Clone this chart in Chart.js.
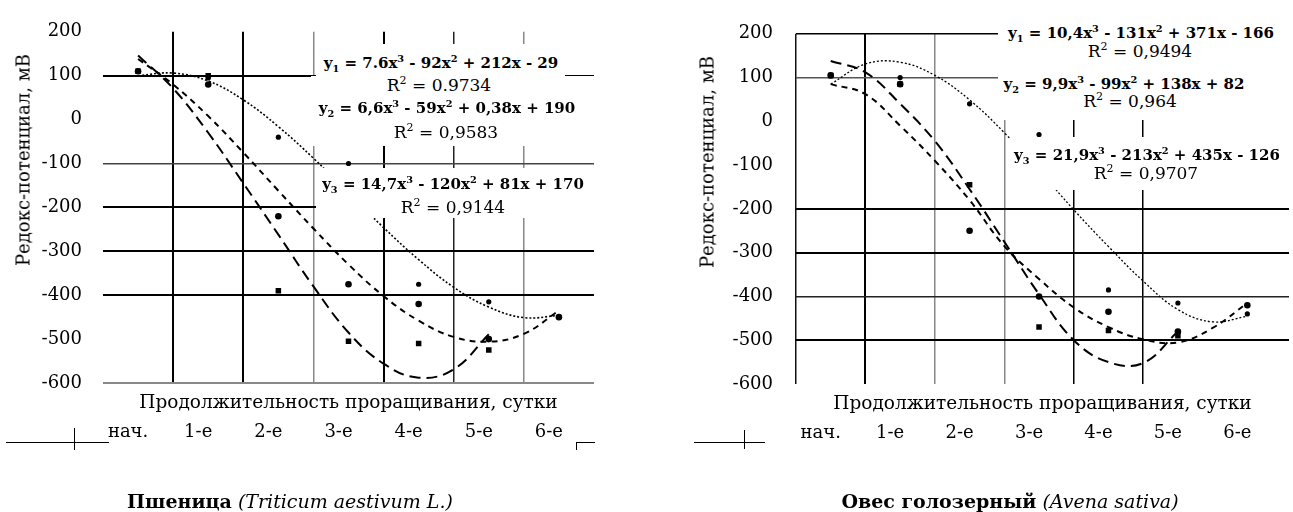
<!DOCTYPE html>
<html>
<head>
<meta charset="utf-8">
<script src="https://cdn.jsdelivr.net/npm/chart.js@4.4.1/dist/chart.umd.min.js"></script>
<style>
  body { margin: 0; background: #fff; }
  #page { position: relative; width: 1293px; height: 512px; overflow: hidden; font-family: "DejaVu Serif", serif; color: #000; }
  .half { position: absolute; top: 0; height: 512px; }
  .cover { position: absolute; background: #fff; }
  .t { position: absolute; transform: translate(-50%, -50%); white-space: nowrap; line-height: 1; }
  .eq { font-weight: bold; font-size: 15px; }
  .r2 { font-size: 17px; }
  .eq sub, .r2 sub, .eq sup, .r2 sup { font-size: 65%; line-height: 0; }
  .ytitle { position: absolute; font-size: 18px; white-space: nowrap; transform: translate(-50%, -50%) rotate(-90deg); }
  .cap { font-size: 19px; }
  .cap b { font-weight: bold; }
  .rule { position: absolute; background: #000; }
</style>
</head>
<body>
<div id="page">
  <div class="half" style="left:0;width:646px"><canvas id="wheat" width="646" height="512"></canvas></div>
  <div class="half" style="left:646px;width:647px"><canvas id="oat" width="647" height="512"></canvas></div>

  <!-- Пшеница: подписи линий тренда -->
  <div class="cover" style="left:316px;top:44px;width:249px;height:32px"></div>
  <div class="cover" style="left:311px;top:76px;width:283px;height:70px"></div>
  <div class="cover" style="left:316px;top:168px;width:278px;height:50px"></div>
  <div class="t eq" style="left:441px;top:63px">y<sub>1</sub> = 7.6x<sup>3</sup> - 92x<sup>2</sup> + 212x - 29</div>
  <div class="t r2" style="left:439px;top:85px">R<sup>2</sup> = 0.9734</div>
  <div class="t eq" style="left:447px;top:108px">y<sub>2</sub> = 6,6x<sup>3</sup> - 59x<sup>2</sup> + 0,38x + 190</div>
  <div class="t r2" style="left:446px;top:132px">R<sup>2</sup> = 0,9583</div>
  <div class="t eq" style="left:453px;top:184px">y<sub>3</sub> = 14,7x<sup>3</sup> - 120x<sup>2</sup> + 81x + 170</div>
  <div class="t r2" style="left:453px;top:207px">R<sup>2</sup> = 0,9144</div>

  <!-- Овес: подписи линий тренда -->
  <div class="cover" style="left:998px;top:14px;width:295px;height:106px"></div>
  <div class="cover" style="left:1010px;top:137px;width:283px;height:53px"></div>
  <div class="t eq" style="left:1141px;top:33px">y<sub>1</sub> = 10,4x<sup>3</sup> - 131x<sup>2</sup> + 371x - 166</div>
  <div class="t r2" style="left:1140px;top:51px">R<sup>2</sup> = 0,9494</div>
  <div class="t eq" style="left:1124px;top:84px">y<sub>2</sub> = 9,9x<sup>3</sup> - 99x<sup>2</sup> + 138x + 82</div>
  <div class="t r2" style="left:1130px;top:101px">R<sup>2</sup> = 0,964</div>
  <div class="t eq" style="left:1147px;top:155px">y<sub>3</sub> = 21,9x<sup>3</sup> - 213x<sup>2</sup> + 435x - 126</div>
  <div class="t r2" style="left:1146px;top:173px">R<sup>2</sup> = 0,9707</div>

  <div class="ytitle" style="left:23px;top:160px">Редокс-потенциал, мВ</div>
  <div class="ytitle" style="left:707px;top:162px">Редокс-потенциал, мВ</div>

  <div class="t cap" style="left:290px;top:501px"><b>Пшеница</b> <i>(Triticum aestivum L.)</i></div>
  <div class="t cap" style="left:1010px;top:501px"><b>Овес голозерный</b> <i>(Avena sativa)</i></div>

  <!-- обрывки линий под осями -->
  <div class="rule" style="left:6px;top:442px;width:103px;height:1px"></div>
  <div class="rule" style="left:74px;top:428px;width:1px;height:22px"></div>
  <div class="rule" style="left:576px;top:442px;width:19px;height:1px"></div>
  <div class="rule" style="left:576px;top:442px;width:1px;height:8px"></div>
  <div class="rule" style="left:694px;top:442px;width:71px;height:1px"></div>
  <div class="rule" style="left:744px;top:430px;width:1px;height:19px"></div>
</div>

<script>
// сутки проращивания
const days = ['нач.', '1-е', '2-е', '3-е', '4-е', '5-е', '6-е'];
const dayPos = [1, 2, 3, 4, 5, 6, 7];
const yTicks = [200, 100, 0, -100, -200, -300, -400, -500, -600];
const gridX = [0.5, 1.5, 2.5, 3.5, 4.5, 5.5, 6.5, 7.5];
// x of the points
const fitX = [1, 1.5, 2, 2.5, 3, 3.5, 4, 4.5, 5, 5.5, 6, 6.5, 7];

// Пшеница, мВ
const wheat1 = [110, 95, -40, -100, -375, -415, -450];
const wheat2 = [110, 80, -220, -375, -420, -500, -450];
const wheat3 = [110, 100, -390, -505, -510, -525, null];
const wheatFit1 = [100, 106, 88, 45, -16, -88, -167, -246, -319, -382, -427, -451, -446];
const wheatFit2 = [138, 80, 8, -75, -162, -248, -330, -402, -458, -495, -506, -488, -435];
const wheatFit3 = [146, 71, -30, -145, -262, -380, -485, -556, -588, -569, -489];

// Овес голозерный, мВ
const oat1 = [105, 100, 40, -30, -385, -415, -440];
const oat2 = [105, 85, -250, -400, -435, -480, -420];
const oat3 = [105, 85, -145, -470, -478, -490, null];
const oatFit1 = [85, 131, 135, 105, 49, -26, -112, -202, -286, -365, -430, -458, -445];
const oatFit2 = [85, 62, -10, -90, -180, -285, -360, -425, -470, -498, -505, -472, -415];
const oatFit3 = [138, 112, 40, -45, -155, -275, -395, -500, -550, -552, -480];

const FONT = 'DejaVu Serif';
const NONE = ['rgba(0,0,0,0)', 1];

const pts = ys => dayPos.map((x, i) => ({ x, y: ys[i] })).filter(p => p.y !== null);
const fit = ys => ys.map((y, i) => ({ x: fitX[i], y }));

// grid line look by tick value
const gridLook = map => ({
  drawTicks: false,
  color: c => (map[c.tick && c.tick.value] || NONE)[0],
  lineWidth: c => (map[c.tick && c.tick.value] || NONE)[1],
});

function makeChart(id, s1, s2, s3, f1, f2, f3, o) {
  return new Chart(document.getElementById(id), {
    type: 'scatter',
    data: {
      datasets: [
        { data: pts(s1), pointStyle: 'circle', pointRadius: 2.6, backgroundColor: '#000', borderWidth: 0, order: 0 },
        { data: pts(s2), pointStyle: 'circle', pointRadius: 3.3, backgroundColor: '#000', borderWidth: 0, order: 0 },
        { data: pts(s3), pointStyle: 'rect', pointRadius: 3.9, backgroundColor: '#000', borderWidth: 0, order: 0 },
        { data: fit(f1), showLine: true, pointRadius: 0, borderColor: '#000', borderWidth: o.dotW, borderDash: [2, 2], tension: 0.4, order: 1 },
        { data: fit(f2), showLine: true, pointRadius: 0, borderColor: '#000', borderWidth: 2, borderDash: [6, 5], tension: 0.4, order: 1 },
        { data: fit(f3), showLine: true, pointRadius: 0, borderColor: '#000', borderWidth: 2, borderDash: [11, 6], tension: 0.4, order: 1 },
      ],
    },
    options: {
      responsive: false,
      animation: false,
      layout: { padding: o.padding },
      plugins: { legend: { display: false }, tooltip: { enabled: false } },
      scales: {
        x: {
          type: 'linear', position: 'bottom', weight: 0, min: 0.5, max: o.xMax,
          afterBuildTicks: s => { s.ticks = gridX.map(v => ({ value: v })); },
          afterFit: s => { s.height = 34; },
          ticks: { display: false },
          grid: gridLook(o.vLines),
          border: { display: false },
          title: {
            display: true,
            text: 'Продолжительность проращивания, сутки',
            color: '#000',
            font: { family: FONT, size: 18.5 },
            padding: { top: 0, bottom: 3 },
          },
        },
        xl: {
          type: 'linear', position: 'bottom', weight: 1, min: 0.5, max: o.xMax,
          afterBuildTicks: s => { s.ticks = dayPos.map(v => ({ value: v })); },
          afterFit: s => { s.height = 30; },
          ticks: {
            callback: (v, i) => days[i],
            color: '#000',
            font: { family: FONT, size: 18 },
            padding: 5,
            labelOffset: -10,
            autoSkip: false,
            maxRotation: 0,
          },
          grid: { display: false, drawTicks: false },
          border: { display: false },
        },
        y: {
          type: 'linear', min: -600, max: 200,
          afterBuildTicks: s => { s.ticks = yTicks.map(v => ({ value: v })); },
          afterFit: s => { s.width = o.yWidth; },
          ticks: { color: '#000', font: { family: FONT, size: 18 }, padding: o.yPad },
          grid: gridLook(o.hLines),
          border: { display: false },
        },
      },
    },
  });
}

makeChart('wheat', wheat1, wheat2, wheat3, wheatFit1, wheatFit2, wheatFit3, {
  padding: { left: 0, top: 20, right: 52, bottom: 65 },
  xMax: 7.5,
  yWidth: 103,
  yPad: 21,
  dotW: 1.6,
  vLines: { 1.5: ['#000', 2], 2.5: ['#000', 2], 3.5: ['#888', 1.5], 4.5: ['#000', 2], 5.5: ['#222', 1.5], 6.5: ['#888', 1.5] },
  hLines: { 100: ['#000', 2], '-100': ['#444', 1.5], '-200': ['#000', 2], '-300': ['#000', 2], '-400': ['#000', 2], '-600': ['#888', 2] },
});

makeChart('oat', oat1, oat2, oat3, oatFit1, oatFit2, oatFit3, {
  padding: { left: 0, top: 22, right: 0, bottom: 64 },
  xMax: 7.6,
  yWidth: 150,
  yPad: 23,
  dotW: 1.3,
  vLines: { 0.5: ['#111', 1.5], 1.5: ['#000', 2], 2.5: ['#888', 1.5], 3.5: ['#888', 1.5], 4.5: ['#000', 1.5], 5.5: ['#000', 1.5] },
  hLines: { 200: ['#000', 1.5], 100: ['#555', 1.5], '-200': ['#000', 2], '-300': ['#000', 2], '-400': ['#222', 1.5], '-500': ['#000', 2] },
});
</script>
</body>
</html>
